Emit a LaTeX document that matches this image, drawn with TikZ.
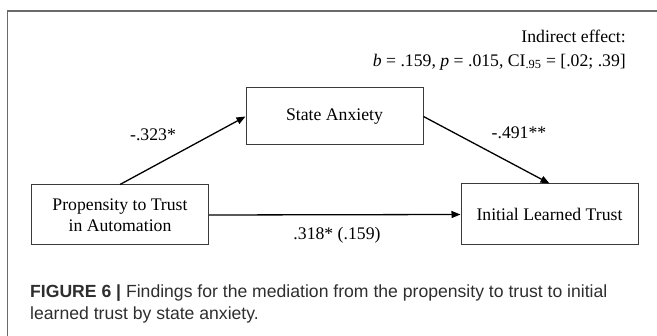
\documentclass[tikz,border=0pt]{standalone}
\usepackage{fontspec}
\setmainfont{Liberation Serif}
\newfontfamily\capfont{Liberation Sans}
\usetikzlibrary{arrows.meta}
\definecolor{framegray}{HTML}{6A6A6A}
\definecolor{boxgray}{HTML}{3A3A3A}
\definecolor{captext}{HTML}{2E2E2E}
\tikzset{
  varbox/.style={draw=boxgray, line width=1pt, minimum width=177pt, inner sep=0pt,
    align=center, font=\fontsize{17.7}{21}\selectfont},
  pathlbl/.style={font=\fontsize{17.7}{21}\selectfont, inner sep=0pt},
  patharrow/.style={line width=1.3pt, -{Triangle[length=9pt,width=7pt]}},
  captionline/.style={font=\capfont\fontsize{17.6}{22}\selectfont, text=captext, inner sep=0pt, anchor=base west}
}
\begin{document}
\begin{tikzpicture}[x=1pt,y=-1pt]
  \useasboundingbox (0,0) rectangle (657,336);
  % outer frame (open on right and bottom)
  \draw[framegray, line width=1.4pt] (7.3,340) -- (7.3,11) -- (660,11);
  % top annotation
  \node[pathlbl, align=right, anchor=east, font=\fontsize{17.7}{24}\selectfont] (ind) at (626,50)
    {Indirect effect:\\\textit{b} = .159, \textit{p} = .015, CI\textsubscript{.95} = [.02; .39]};
  % boxes
  \node[varbox, minimum height=57pt] (state) at (334.5,116.5) {State Anxiety};
  \node[varbox, minimum height=60pt] (prop) at (120,215) {Propensity to Trust\\in Automation};
  \node[varbox, minimum height=61pt] (init) at (549.5,214.5) {Initial Learned Trust};
  % arrows
  \draw[patharrow] (prop.north) -- (state.west);
  \draw[patharrow] (state.east) -- (init.north);
  \draw[patharrow] (prop.east) -- (init.west);
  % labels
  \node[pathlbl] (l1) at (153,135) {-.323*};
  \node[pathlbl] (l2) at (519,133) {-.491**};
  \node[pathlbl] (l3) at (337,235) {.318* (.159)};
  % caption
  \node[captionline] (cap1) at (30,298) {\textbf{FIGURE 6 |} Findings for the mediation from the propensity to trust to initial};
  \node[captionline] (cap2) at (30,320) {learned trust by state anxiety.};
\end{tikzpicture}
\end{document}
